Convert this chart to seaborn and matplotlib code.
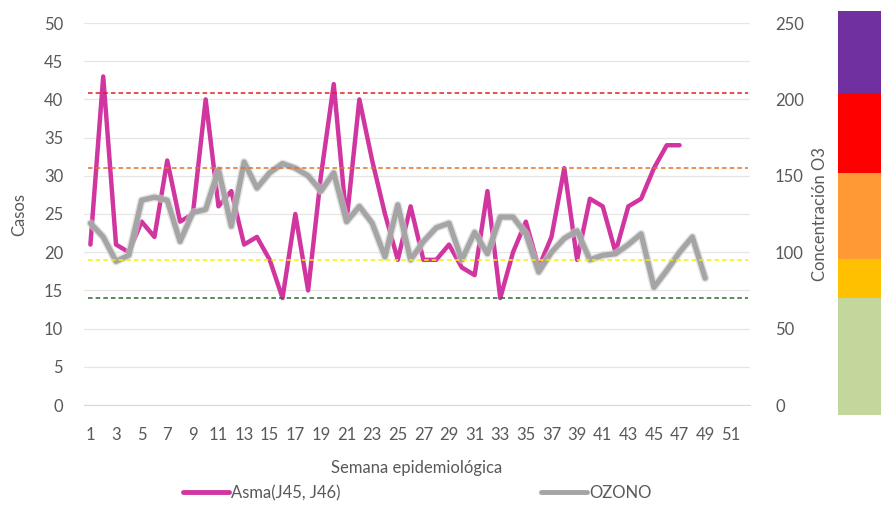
import numpy as np
import pandas as pd
import matplotlib
matplotlib.use("Agg")
import matplotlib.pyplot as plt
import seaborn as sns
from matplotlib.lines import Line2D

# datos
semanas_asma = list(range(1, 48))
asma = [21, 43, 21, 20, 24, 22, 32, 24, 25, 40, 26, 28, 21, 22, 19, 14, 25, 15, 30, 42,
        24, 40, 32, 25, 19, 26, 19, 19, 21, 18, 17, 28, 14, 20, 24, 18, 22, 31, 19, 27,
        26, 20, 26, 27, 31, 34, 34]
semanas_o3 = list(range(1, 50))
ozono = [119, 110, 94, 98, 134, 136, 134, 107, 126, 128, 154, 117, 159, 142, 152, 158, 155, 150, 140, 152,
         120, 130, 119, 97, 131, 95, 107, 116, 119, 95, 113, 99, 123, 123, 112, 87, 100, 109, 114, 95,
         98, 99, 105, 112, 77, 88, 100, 110, 83]
umbrales = [70, 95, 155, 204]
colores_umbral = ["#2f6b2f", "#f2f200", "#e0702a", "#e02020"]
bandas = [-7, 69.5, 95.5, 152, 204, 258]
colores_banda = ["#c3d69b", "#ffc000", "#ff9933", "#ff0000", "#7030a0"]
xticks = list(range(1, 52, 2))

df_a = pd.DataFrame({"semana": semanas_asma, "casos": asma})
df_o = pd.DataFrame({"semana": semanas_o3, "o3": ozono})

sns.set_style("white")
plt.rcParams["font.family"] = ["Lato", "DejaVu Sans"]
gris = "#595959"

fig = plt.figure(figsize=(8.81, 5.05), dpi=100)
ax = fig.add_axes([84 / 881, 100 / 505, 666 / 881, 382 / 505])
ax2 = ax.twinx()

sns.lineplot(data=df_a, x="semana", y="casos", ax=ax, color="#d1359f", lw=3.2,
             solid_capstyle="round", zorder=3)
# sombra del ozono
sns.lineplot(data=df_o, x="semana", y="o3", ax=ax2, color="#cfcfcf", lw=5.8, alpha=0.6,
             solid_capstyle="round", zorder=2)
sns.lineplot(data=df_o, x="semana", y="o3", ax=ax2, color="#a5a5a5", lw=3.8,
             solid_capstyle="round", zorder=3)
for v, c in zip(umbrales, colores_umbral):
    ax2.axhline(v, xmin=0.006, xmax=0.997, color=c, lw=1.1, ls=(0, (3, 2)), zorder=4)

ax.set_xlim(0.5, 52.5)
ax.set_ylim(0, 50)
ax2.set_ylim(0, 250)
ax.set_xticks(xticks)
ax.set_yticks(range(0, 51, 5))
ax2.set_yticks(range(0, 251, 50))
ax.yaxis.grid(True, color="#e6e6e6", lw=0.9)
for s in ["top", "left", "right"]:
    ax.spines[s].set_visible(False)
    ax2.spines[s].set_visible(False)
ax2.spines["bottom"].set_visible(False)
ax.spines["bottom"].set_color("#d9d9d9")
ax.tick_params(axis="both", length=0, labelsize=12, colors=gris)
ax.tick_params(axis="x", pad=16)
ax.tick_params(axis="y", pad=15)
ax2.tick_params(axis="y", length=0, labelsize=12, colors=gris, pad=18)
ax.set_xlabel("Semana epidemiológica", fontsize=12, color=gris, labelpad=12)
ax.set_ylabel("Casos", fontsize=12, color=gris, labelpad=12)
ax2.set_ylabel("Concentración O3", fontsize=12, color=gris, labelpad=6)

# barra de colores de la calidad del aire
cax = fig.add_axes([838 / 881, 90 / 505, 43 / 881, 404 / 505])
for i, c in enumerate(colores_banda):
    cax.axhspan(bandas[i], bandas[i + 1], color=c, lw=0)
cax.set_ylim(bandas[0], bandas[-1])
cax.set_xlim(0, 1)
cax.axis("off")

handles = [Line2D([], [], color="#d1359f", lw=3.5), Line2D([], [], color="#a5a5a5", lw=3.5)]
fig.legend(handles, ["Asma(J45, J46)", "OZONO"], loc="center", bbox_to_anchor=(417 / 881, 12 / 505),
           ncol=2, frameon=False, fontsize=12, handlelength=2.8, handletextpad=0.1,
           columnspacing=12.0, labelcolor=gris)

fig.savefig("out.png", dpi=100)
